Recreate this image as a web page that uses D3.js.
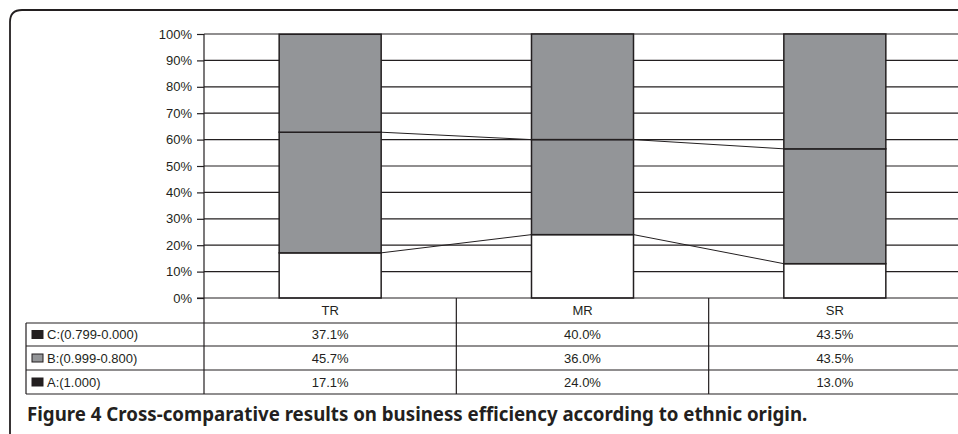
<!DOCTYPE html>
<html>
<head>
<meta charset="utf-8">
<script src="https://cdn.jsdelivr.net/npm/d3@7"></script>
<style>
  html, body { margin: 0; padding: 0; background: #fff; }
  svg { display: block; }
</style>
</head>
<body>
<svg id="chart" width="958" height="434"></svg>
<script>
// Regions and efficiency classes
const regions = ["TR", "MR", "SR"];
const classA = [17.1, 24.0, 13.0];   // A:(1.000)
const classB = [45.7, 36.0, 43.5];   // B:(0.999-0.800)
const classC = [37.1, 40.0, 43.5];   // C:(0.799-0.000)
const classLabels = ["C:(0.799-0.000)", "B:(0.999-0.800)", "A:(1.000)"];
const yTicks = [0, 10, 20, 30, 40, 50, 60, 70, 80, 90, 100];
const caption = "Figure 4 Cross-comparative results on business efficiency according to ethnic origin.";

const svg = d3.select("#chart");
const ink = "#231f20";
const gray = "#939598";
const font = "'Liberation Sans', Arial, sans-serif";

// Outer frame with rounded top-left corner
svg.append("path")
  .attr("d", "M10,434 L10,22 Q10,10 22,10 L960,10")
  .attr("fill", "none").attr("stroke", ink).attr("stroke-width", 1.8);

const plotLeft = 204, plotRight = 961;
const x = d3.scaleBand().domain(regions).range([plotLeft, plotRight]).paddingInner(0).paddingOuter(0);
const y = d3.scaleLinear().domain([0, 100]).range([298, 34]);
const barW = 102;

// Gridlines
svg.append("g").selectAll("line").data(yTicks.filter(t => t > 0)).join("line")
  .attr("x1", plotLeft).attr("x2", 958)
  .attr("y1", d => y(d)).attr("y2", d => y(d))
  .attr("stroke", ink).attr("stroke-width", 1.2);

// Y axis
const yAxis = d3.axisLeft(y).tickValues(yTicks).tickFormat(d => d + "%").tickSize(7).tickPadding(5);
const ya = svg.append("g").attr("transform", `translate(${plotLeft},0)`).call(yAxis);
ya.select(".domain").remove();
ya.selectAll(".tick line").attr("stroke", ink).attr("stroke-width", 1.2);
ya.selectAll(".tick text").attr("font-family", font).attr("font-size", 13).attr("fill", ink);

// Stacked data
const rows = regions.map((r, i) => ({ region: r, A: classA[i], B: classB[i], C: classC[i] }));
const stack = d3.stack().keys(["A", "B", "C"])(rows);
const fills = { A: "#ffffff", B: gray, C: gray };

const bx = r => x(r) + (x.bandwidth() - barW) / 2;

stack.forEach(layer => {
  svg.append("g").selectAll("rect").data(layer).join("rect")
    .attr("x", d => bx(d.data.region))
    .attr("width", barW)
    .attr("y", d => y(d[1]))
    .attr("height", d => y(d[0]) - y(d[1]))
    .attr("fill", fills[layer.key])
    .attr("stroke", ink).attr("stroke-width", 1.5);
});

// Series lines connecting segment tops between bars
["A", "B"].forEach(key => {
  const layer = stack.find(s => s.key === key);
  for (let i = 0; i < layer.length - 1; i++) {
    const a = layer[i], b = layer[i + 1];
    svg.append("line")
      .attr("x1", bx(a.data.region) + barW).attr("y1", y(a[1]))
      .attr("x2", bx(b.data.region)).attr("y2", y(b[1]))
      .attr("stroke", ink).attr("stroke-width", 1);
  }
});

// Axis line
svg.append("line").attr("x1", plotLeft).attr("x2", plotLeft).attr("y1", 34).attr("y2", 394)
  .attr("stroke", ink).attr("stroke-width", 1.2);
svg.append("line").attr("x1", 197).attr("x2", 958).attr("y1", y(0)).attr("y2", y(0))
  .attr("stroke", ink).attr("stroke-width", 1.2);

// Data table
const tableLeft = 26;
const rowTops = [298, 323, 346, 370, 394];
const tbl = svg.append("g");
// horizontal rules
rowTops.slice(1).forEach(t => {
  tbl.append("line").attr("x1", tableLeft).attr("x2", 958).attr("y1", t).attr("y2", t)
    .attr("stroke", ink).attr("stroke-width", 1.2);
});
tbl.append("line").attr("x1", tableLeft).attr("x2", tableLeft).attr("y1", 323).attr("y2", 394)
  .attr("stroke", ink).attr("stroke-width", 1.2);
// column dividers
regions.slice(1).forEach(r => {
  tbl.append("line").attr("x1", x(r)).attr("x2", x(r)).attr("y1", 298).attr("y2", 394)
    .attr("stroke", ink).attr("stroke-width", 1.2);
});
// header
tbl.selectAll("text.hdr").data(regions).join("text").attr("class", "hdr")
  .attr("x", d => x(d) + x.bandwidth() / 2).attr("y", (298 + 323) / 2 + 4.5)
  .attr("text-anchor", "middle").attr("font-family", font).attr("font-size", 13).attr("fill", ink)
  .text(d => d);

const tableSeries = [classC, classB, classA];
const swatchFill = [ink, gray, ink];
tableSeries.forEach((vals, k) => {
  const cy = (rowTops[k + 1] + rowTops[k + 2]) / 2;
  tbl.append("rect").attr("x", 32).attr("y", cy - 4).attr("width", 11).attr("height", 8)
    .attr("fill", swatchFill[k]).attr("stroke", ink).attr("stroke-width", 1);
  tbl.append("text").attr("x", 47).attr("y", cy + 4.5)
    .attr("font-family", font).attr("font-size", 13).attr("fill", ink).text(classLabels[k]);
  tbl.selectAll(null).data(vals).join("text")
    .attr("x", (d, i) => x(regions[i]) + x.bandwidth() / 2).attr("y", cy + 4.5)
    .attr("text-anchor", "middle").attr("font-family", font).attr("font-size", 13).attr("fill", ink)
    .text(d => d.toFixed(1) + "%");
});

// Caption
const cap = svg.append("text").attr("x", 27).attr("y", 421)
  .attr("font-family", "'Noto Sans', 'Open Sans', sans-serif").attr("font-weight", "bold")
  .attr("font-size", 15).attr("fill", ink);
cap.append("tspan").text("Figure 4 ");
cap.append("tspan").text(caption.replace("Figure 4 ", ""));
const w = cap.node().getComputedTextLength();
cap.attr("font-size", 15 * 781 / w);
</script>
</body>
</html>
